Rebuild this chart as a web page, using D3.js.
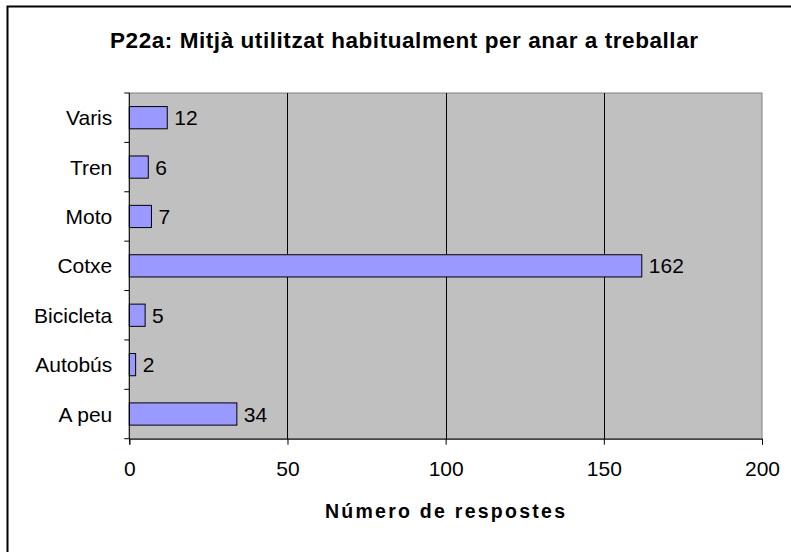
<!DOCTYPE html>
<html>
<head>
<meta charset="utf-8">
<script src="https://cdn.jsdelivr.net/npm/d3@7"></script>
<style>
  body { margin: 0; background: #fff; }
  svg { display: block; font-family: Arial, "Liberation Sans", sans-serif; }
</style>
</head>
<body>
<svg id="chart" width="791" height="552"></svg>
<script>
// categories from top to bottom, as in the chart
const categories = ["Varis", "Tren", "Moto", "Cotxe", "Bicicleta", "Autobús", "A peu"];
const values = [12, 6, 7, 162, 5, 2, 34];
const xTicks = [0, 50, 100, 150, 200];

const title = "P22a: Mitjà utilitzat habitualment per anar a treballar";
const xTitle = "Número de respostes";

const svg = d3.select("#chart");

// outer frame
svg.append("rect")
  .attr("x", 7.5).attr("y", 6.5)
  .attr("width", 800).attr("height", 600)
  .attr("fill", "#fff")
  .attr("stroke", "#000")
  .attr("stroke-width", 2);

const plot = { left: 129.3, top: 93, right: 762, bottom: 438.7 };

const x = d3.scaleLinear()
  .domain([0, 200])
  .range([plot.left, plot.right]);

const y = d3.scaleBand()
  .domain(categories)
  .range([plot.top, plot.bottom])
  .paddingInner(0.55)
  .paddingOuter(0.275);

// plot background
svg.append("rect")
  .attr("x", plot.left).attr("y", plot.top)
  .attr("width", plot.right - plot.left)
  .attr("height", plot.bottom - plot.top)
  .attr("fill", "#c0c0c0")
  .attr("stroke", "#808080")
  .attr("stroke-width", 1);

// gridlines
svg.append("g")
  .selectAll("line")
  .data(xTicks.slice(1, -1))
  .enter().append("line")
  .attr("x1", d => Math.round(x(d)) + 0.5)
  .attr("x2", d => Math.round(x(d)) + 0.5)
  .attr("y1", plot.top)
  .attr("y2", plot.bottom)
  .attr("stroke", "#000")
  .attr("stroke-width", 1);

// bars
svg.append("g")
  .selectAll("rect")
  .data(categories)
  .enter().append("rect")
  .attr("x", x(0))
  .attr("y", d => y(d))
  .attr("width", (d, i) => x(values[i]) - x(0))
  .attr("height", y.bandwidth())
  .attr("fill", "#9999ff")
  .attr("stroke", "#000")
  .attr("stroke-width", 1);

// value labels
svg.append("g")
  .selectAll("text")
  .data(categories)
  .enter().append("text")
  .attr("x", (d, i) => x(values[i]) + 7)
  .attr("y", d => y(d) + y.bandwidth() / 2)
  .attr("dy", "0.36em")
  .style("font-size", "21px")
  .style("fill", "#000")
  .text((d, i) => values[i]);

// x axis
const xAxis = svg.append("g")
  .attr("transform", `translate(0,${plot.bottom})`)
  .call(d3.axisBottom(x).tickValues(xTicks).tickSize(6).tickPadding(16));
xAxis.select(".domain").attr("stroke", "#000");
xAxis.selectAll(".tick line").attr("stroke", "#000");
xAxis.selectAll("text")
  .style("font-size", "21px")
  .style("font-family", "Arial, 'Liberation Sans', sans-serif")
  .attr("fill", "#000");

// y axis: ticks at category boundaries
const yBounds = d3.range(categories.length + 1).map(i => plot.top + i * (plot.bottom - plot.top) / categories.length);
const yAxis = svg.append("g");
yAxis.append("line")
  .attr("x1", plot.left).attr("x2", plot.left)
  .attr("y1", plot.top).attr("y2", plot.bottom)
  .attr("stroke", "#000");
yAxis.selectAll("line.tk")
  .data(yBounds)
  .enter().append("line")
  .attr("class", "tk")
  .attr("x1", plot.left - 5).attr("x2", plot.left)
  .attr("y1", d => d).attr("y2", d => d)
  .attr("stroke", "#000");
yAxis.selectAll("text")
  .data(categories)
  .enter().append("text")
  .attr("x", plot.left - 17)
  .attr("y", d => y(d) + y.bandwidth() / 2)
  .attr("dy", "0.36em")
  .attr("text-anchor", "end")
  .style("font-size", "21px")
  .style("fill", "#000")
  .text(d => d);

// title
svg.append("text")
  .attr("x", 404)
  .attr("y", 48)
  .attr("text-anchor", "middle")
  .attr("textLength", 588)
  .style("font-size", "22.5px")
  .style("font-weight", "bold")
  .style("fill", "#000")
  .text(title);

// x axis title
svg.append("text")
  .attr("x", 445)
  .attr("y", 518)
  .attr("text-anchor", "middle")
  .attr("textLength", 240)
  .style("font-size", "19.5px")
  .style("font-weight", "bold")
  .style("fill", "#000")
  .text(xTitle);
</script>
</body>
</html>
